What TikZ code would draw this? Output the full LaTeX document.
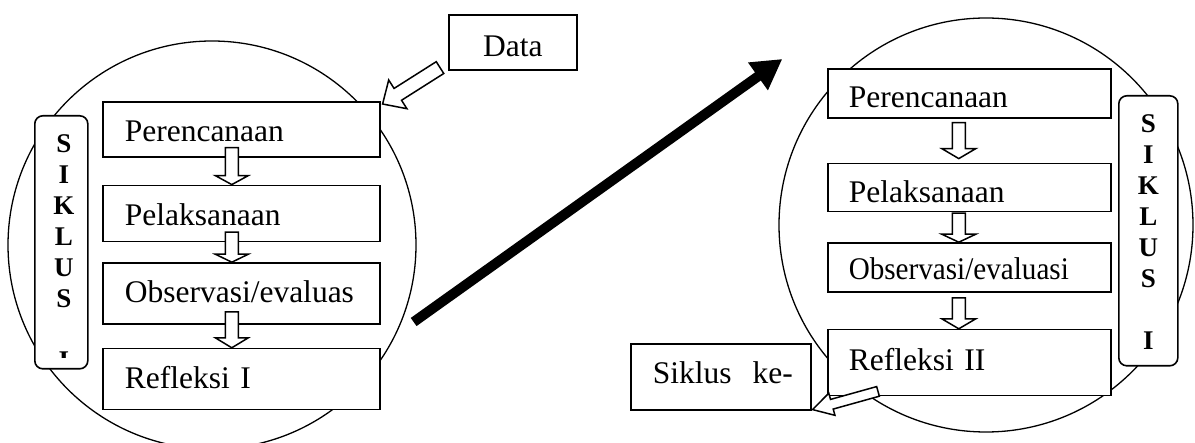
\documentclass[tikz,border=0pt]{standalone}
\usepackage{fontspec}
\setmainfont{Liberation Serif}
\usepackage{graphicx}
\usetikzlibrary{arrows.meta,positioning,calc}

\newcommand{\boxfont}{\fontsize{31.5}{38}\selectfont}
\newcommand{\sidefont}{\fontsize{27}{30.9}\selectfont\bfseries}
% hollow block arrow: from, to, shaft half width, head half width, head length
\newcommand{\hollowarrow}[5]{%
  \coordinate (ha-base) at ($(#2)!#5!(#1)$);
  \draw[hollow] ($(#1)!#3!90:(#2)$) -- ($(ha-base)!#3!90:(#2)$)
    -- ($(ha-base)!#4!90:(#2)$) -- (#2) -- ($(ha-base)!#4!-90:(#2)$)
    -- ($(ha-base)!#3!-90:(#2)$) -- ($(#1)!#3!-90:(#2)$) -- cycle;}

\begin{document}
\begin{tikzpicture}[
      x=1pt, y=-1pt,
      ring/.style={draw, circle, line width=1.3pt, inner sep=0pt},
      stage/.style={
        draw, line width=1.6pt, fill=white, inner ysep=0pt, align=left,
        text height=40pt, font=\boxfont
      },
      stageA/.style={stage, inner xsep=22pt, text width=233pt},
      stageB/.style={stage, inner xsep=21pt, text width=241pt, text height=39pt},
      sidebox/.style={draw, line width=1.6pt, fill=white, rounded corners=8pt, inner sep=0pt},
      sidetext/.style={inner sep=0pt, align=center, font=\sidefont, anchor=north},
      hollow/.style={draw, line width=1.5pt, fill=white},
      jump/.style={-{Triangle[length=30pt,width=32pt]}, line width=10pt}
    ]
    \useasboundingbox (0,0) rectangle (1195,443);
    \fill[white] (0,0) rectangle (1195,443);

    % first cycle
    \node[ring, minimum size=408pt] (ringA) at (212,245) {};
    \node[sidebox, minimum width=53pt, minimum height=253pt, anchor=north west] (sideA) at (34,115) {};
    \begin{scope}
      \clip (sideA.north west) rectangle ($(sideA.south east)+(0,-12)$);
      \node[sidetext] (sideAtext) at ($(sideA.north)+(2.5,19.7)$) {S\\I\\K\\L\\U\\S\\{}\\I};
    \end{scope}
    \node[stageA, text depth=15pt, anchor=north west] (perenA) at (102,101) {Perencanaan};
    \node[stageA, text depth=16pt, below=27pt of perenA] (pelakA) {Pelaksanaan};
    \node[stageA, text depth=21pt, below=20pt of pelakA] (obsA) {Observasi/evaluas};
    \node[stageA, text depth=21pt, below=23pt of obsA] (reflA) {Refleksi I};

    \node[stage, inner xsep=0pt, align=center, text width=128pt, text height=42pt,
      text depth=13pt, anchor=north west] (data) at (448,14) {Data};

    \coordinate (a1s) at ($(perenA.south)+(-9.5,-10)$);
    \coordinate (a1e) at ($(pelakA.north)+(-9.5,0)$);
    \coordinate (a2s) at ($(pelakA.south)+(-9.5,-10)$);
    \coordinate (a2e) at ($(obsA.north)+(-9.5,0)$);
    \coordinate (a3s) at ($(obsA.south)+(-9.5,-13)$);
    \coordinate (a3e) at ($(reflA.north)+(-9.5,0)$);
    \hollowarrow{a1s}{a1e}{6.5pt}{16.5pt}{9pt}
    \hollowarrow{a2s}{a2e}{6.5pt}{16.5pt}{8pt}
    \hollowarrow{a3s}{a3e}{6.5pt}{16.5pt}{10pt}

    \coordinate (dataTail) at ($(data.south west)+(-8,-3)$);
    \coordinate (dataTip) at ($(perenA.north east)+(2,3)$);
    \hollowarrow{dataTail}{dataTip}{7pt}{17pt}{18pt}

    % second cycle
    \node[ring, minimum size=414pt] (ringB) at (986,225) {};
    \node[sidebox, minimum width=59pt, minimum height=270pt, anchor=north west] (sideB) at (1118,95) {};
    \node[sidetext] (sideBtext) at ($(sideB.north)+(0,19.7)$) {S\\I\\K\\L\\U\\S\\{}\\I};
    \node[stageB, text depth=10pt, anchor=north west] (perenB) at (827,68) {Perencanaan};
    \node[stageB, text depth=9pt, below=44pt of perenB] (pelakB) {Pelaksanaan};
    \node[stageB, text depth=12pt, text height=37pt, below=30pt of pelakB] (obsB) {\scalebox{0.925}[1]{Observasi/evaluasi}};
    \node[stageB, text depth=25pt, text height=41pt, below=36pt of obsB] (reflB) {Refleksi II};

    \node[stage, inner xsep=22pt, text width=136pt, text depth=26pt,
      anchor=north west] (next) at (630,343) {\mbox{Siklus\ \ ke-}};

    \coordinate (b1s) at ($(perenB.south)+(-10.5,4)$);
    \coordinate (b1e) at ($(pelakB.north)+(-10.5,-4)$);
    \coordinate (b2s) at ($(pelakB.south)+(-10.5,1)$);
    \coordinate (b2e) at ($(obsB.north)+(-10.5,0)$);
    \coordinate (b3s) at ($(obsB.south)+(-10.5,5)$);
    \coordinate (b3e) at ($(reflB.north)+(-10.5,0)$);
    \hollowarrow{b1s}{b1e}{6.5pt}{17pt}{10pt}
    \hollowarrow{b2s}{b2e}{6.5pt}{17pt}{8pt}
    \hollowarrow{b3s}{b3e}{6.5pt}{17pt}{10pt}

    \coordinate (backTail) at ($(reflB.south west)+(51,-5)$);
    \coordinate (backTip) at ($(next.south east)+(1,-1)$);
    \hollowarrow{backTail}{backTip}{5pt}{11.5pt}{20pt}

    % jump to the next cycle
    \coordinate (jumpA) at ($(ringA.east)+(-3,77)$);
    \coordinate (jumpB) at ($(ringB.west)+(4,-166)$);
    \draw[jump] (jumpA) -- (jumpB);
  \end{tikzpicture}
\end{document}
